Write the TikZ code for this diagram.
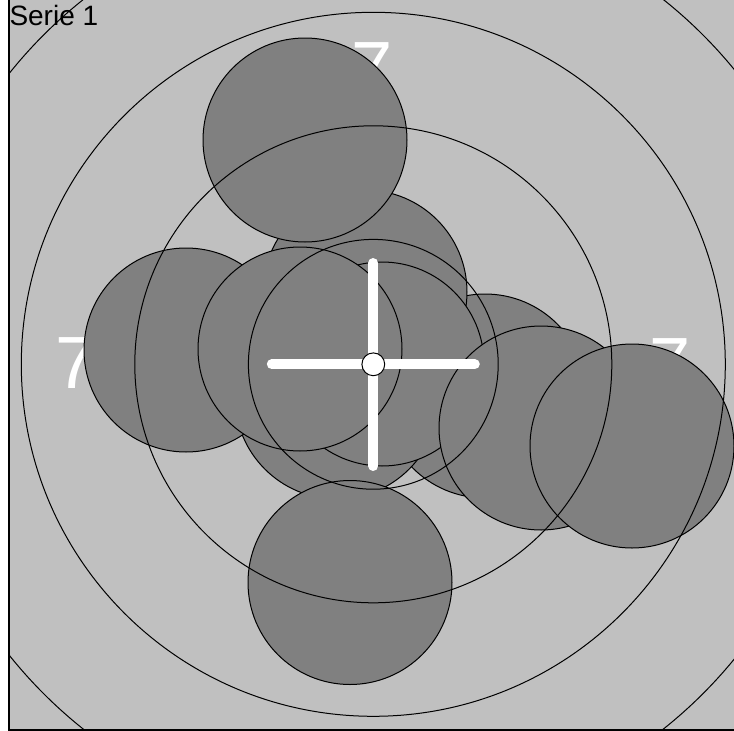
\documentclass[tikz,border=0pt]{standalone}
\usepackage{fontspec}
\setmainfont{Liberation Sans}
\definecolor{bggray}{HTML}{C0C0C0}
\definecolor{shotgray}{HTML}{808080}
\begin{document}
\begin{tikzpicture}[x=1pt,y=-1pt,
  shot/.style={fill=shotgray, draw=black, line width=1pt},
  ring/.style={draw=black, line width=1pt},
  ringnum/.style={text=white, font=\fontsize{74}{74}\selectfont, inner sep=0pt, anchor=center},
  crossarm/.style={draw=white, line width=10pt, line cap=round},
  frameline/.style={draw=black, line width=2pt},
]
\useasboundingbox (0,0) rectangle (734,731);
\fill[white] (0,0) rectangle (734,731);
\fill[bggray] (9,0) rectangle (734,729);
\coordinate (c) at (373.3,364.3);
\begin{scope}
  \clip (9,0) rectangle (734,729);
  % ring numbers (under the shots)
  \node[ringnum] (n7top) at (372,68.5) {7};
  \node[ringnum] (n7left) at (76,363.5) {7};
  \node[ringnum] (n7right) at (670,364.5) {7};
  % shots
  \foreach \x/\y in {485/396, 365/292, 337/397, 382/364, 186/350, 300/349, 305/140, 350/582.5, 541/428, 632/446}
    \draw[shot] (\x,\y) circle[radius=102];
  % rings
  \foreach \r in {124.9, 238.5, 352, 466}
    \draw[ring] (c) circle[radius=\r];
  % cross
  \coordinate (cl) at (271.8,364.3);
  \coordinate (cr) at (474.8,364.3);
  \coordinate (ct) at (373.3,263);
  \coordinate (cb) at (373.3,466);
  \draw[crossarm] (cl) -- (cr);
  \draw[crossarm] (ct) -- (cb);
  \draw[fill=white, draw=black, line width=1pt] (c) circle[radius=11.4];
\end{scope}
\coordinate (ftop) at (8.5,0);
\coordinate (fcorner) at (8.5,729.5);
\coordinate (fright) at (734,729.5);
\draw[frameline] (ftop) -- (fcorner) -- (fright);
\node[anchor=north west, inner sep=0pt, font=\fontsize{28}{28}\selectfont] (title) at (9.3,5.5) {Serie 1};
\end{tikzpicture}
\end{document}
